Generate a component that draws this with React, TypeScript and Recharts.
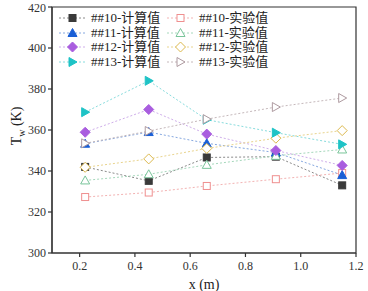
import React from "react";
import {
  LineChart,
  Line,
  XAxis,
  YAxis,
  ReferenceArea,
} from "recharts";

//========== Data ==========
const X_POS = [0.22, 0.45, 0.66, 0.91, 1.15];
const CALC_10 = [342, 335.2, 346.6, 347, 333];
const EXP_10 = [327.3, 329.5, 332.7, 336, 339];
const CALC_11 = [353.3, 359, 353.5, 349, 338];
const EXP_11 = [335.4, 338.4, 343, 347.4, 350.5];
const CALC_12 = [358.9, 370, 358, 350, 342.7];
const EXP_12 = [341.8, 345.9, 351, 356, 359.7];
const CALC_13 = [368.7, 384, 365, 358.7, 353];
const EXP_13 = [353.5, 359.5, 365.3, 371.2, 375.6];

const X_TICKS = [0.2, 0.4, 0.6, 0.8, 1.0, 1.2];
const X_MINOR = [0.1, 0.3, 0.5, 0.7, 0.9, 1.1];
const Y_TICKS = [300, 320, 340, 360, 380, 400, 420];
const Y_MINOR = [310, 330, 350, 370, 390, 410];

const FONT = "'Liberation Serif', 'Noto Sans CJK SC', serif";

type Shape = "square" | "triangle" | "diamond" | "right";

interface SeriesDef {
  key: string;
  name: string;
  values: number[];
  shape: Shape;
  filled: boolean;
  color: string;
  line: string;
}

const SERIES: SeriesDef[] = [
  { key: "c10", name: "##10-计算值", values: CALC_10, shape: "square", filled: true, color: "#3a3a3a", line: "#8a8a8a" },
  { key: "e10", name: "##10-实验值", values: EXP_10, shape: "square", filled: false, color: "#ef8f8f", line: "#f3b3b3" },
  { key: "c11", name: "##11-计算值", values: CALC_11, shape: "triangle", filled: true, color: "#1a5fd6", line: "#86a8e0" },
  { key: "e11", name: "##11-实验值", values: EXP_11, shape: "triangle", filled: false, color: "#79c59a", line: "#a6d8bc" },
  { key: "c12", name: "##12-计算值", values: CALC_12, shape: "diamond", filled: true, color: "#a95ddf", line: "#cfaeea" },
  { key: "e12", name: "##12-实验值", values: EXP_12, shape: "diamond", filled: false, color: "#dcb94e", line: "#e9d48e" },
  { key: "c13", name: "##13-计算值", values: CALC_13, shape: "right", filled: true, color: "#1ec3c6", line: "#88dcdd" },
  { key: "e13", name: "##13-实验值", values: EXP_13, shape: "right", filled: false, color: "#ae9aa0", line: "#c5b8bb" },
];

const data = X_POS.map((x, i) => {
  const row: Record<string, number> = { x };
  SERIES.forEach((s) => {
    row[s.key] = s.values[i];
  });
  return row;
});

//========== Marker ==========
const Marker = ({ cx, cy, s }: { cx: number; cy: number; s: SeriesDef }) => {
  const fill = s.filled ? s.color : "#ffffff";
  const common = { fill, stroke: s.color, strokeWidth: 1 };
  if (s.shape === "square") {
    return <rect x={cx - 3.5} y={cy - 3.5} width={7} height={7} {...common} />;
  }
  if (s.shape === "triangle") {
    return <polygon points={`${cx},${cy - 4.5} ${cx + 4.5},${cy + 3.5} ${cx - 4.5},${cy + 3.5}`} {...common} />;
  }
  if (s.shape === "diamond") {
    return <polygon points={`${cx},${cy - 5} ${cx + 5},${cy} ${cx},${cy + 5} ${cx - 5},${cy}`} {...common} />;
  }
  return <polygon points={`${cx - 3.5},${cy - 4.5} ${cx + 4.5},${cy} ${cx - 3.5},${cy + 4.5}`} {...common} />;
};

//========== Y Label ==========
const YLabel = () => (
  <text x={0} y={0} transform="translate(21,126) rotate(-90)" textAnchor="middle" fontFamily={FONT} fontSize={14} fill="#222">
    T<tspan fontSize={10} dy={4}>w</tspan>
    <tspan dy={-4}> (K)</tspan>
  </text>
);

//========== Legend ==========
const LegendItem = ({ s }: { s: SeriesDef }) => (
  <div style={{ display: "flex", alignItems: "center", height: 14.5 }}>
    <svg width={28} height={12}>
      <line x1={0} y1={6} x2={27} y2={6} stroke={s.line} strokeDasharray="2 2" />
      <Marker cx={13.5} cy={6} s={s} />
    </svg>
    <span style={{ marginLeft: 4, fontSize: 13, lineHeight: "14px", color: "#222", fontFamily: FONT }}>{s.name}</span>
  </div>
);

const ChartLegend = () => (
  <div style={{ position: "absolute", left: 59, top: 11, display: "flex" }}>
    <div style={{ width: 108 }}>
      {SERIES.filter((_, i) => i % 2 === 0).map((s) => (
        <LegendItem key={s.key} s={s} />
      ))}
    </div>
    <div>
      {SERIES.filter((_, i) => i % 2 === 1).map((s) => (
        <LegendItem key={s.key} s={s} />
      ))}
    </div>
  </div>
);

//========== Chart ==========
const App: React.FC = () => {
  const axisLine = { stroke: "#333", strokeWidth: 1.2 };
  const tickStyle = { fontSize: 12, fill: "#333", fontFamily: FONT };
  const blank = () => "";
  return (
    <div style={{ position: "absolute", left: 0, top: 0, width: 368, height: 291, background: "#fff" }}>
      <LineChart width={368} height={291} data={data} margin={{ top: 7, right: 12, bottom: 0, left: 0 }}>
        {/* minor ticks first so they sit against the plot area */}
        <XAxis xAxisId="aminor" dataKey="x" type="number" domain={[0.1, 1.2]} ticks={X_MINOR} interval={0} allowDataOverflow height={0} tickSize={2} axisLine={false} tickLine={axisLine} tickFormatter={blank} />
        <YAxis yAxisId="aminor" type="number" domain={[300, 420]} ticks={Y_MINOR} interval={0} width={0} tickSize={2} axisLine={false} tickLine={axisLine} tickFormatter={blank} />
        <XAxis
          xAxisId="main"
          dataKey="x"
          type="number"
          domain={[0.1, 1.2]}
          ticks={X_TICKS}
          tickFormatter={(v: number) => v.toFixed(1)}
          allowDataOverflow
          height={38}
          tickSize={4}
          tickMargin={4}
          axisLine={axisLine}
          tickLine={axisLine}
          tick={tickStyle}
          label={{ value: "x (m)", position: "insideBottom", offset: 2, style: { fontSize: 14, fill: "#222", fontFamily: FONT } }}
        />
        <YAxis
          yAxisId="main"
          type="number"
          domain={[300, 420]}
          ticks={Y_TICKS}
          width={52}
          tickSize={4}
          tickMargin={2}
          axisLine={axisLine}
          tickLine={axisLine}
          tick={tickStyle}
          label={<YLabel />}
        />
        <ReferenceArea
          xAxisId="main"
          yAxisId="main"
          x1={0.1}
          x2={1.2}
          y1={300}
          y2={420}
          fill="none"
          fillOpacity={0}
          stroke="#333"
          strokeWidth={1.2}
        />
        {SERIES.map((s) => (
          <Line
            key={s.key}
            xAxisId="main"
            yAxisId="main"
            dataKey={s.key}
            name={s.name}
            stroke={s.line}
            strokeWidth={1}
            strokeDasharray="2 2"
            dot={(p: any) => <Marker key={`${s.key}-${p.index}`} cx={p.cx} cy={p.cy} s={s} />}
            activeDot={false}
            isAnimationActive={false}
          />
        ))}
      </LineChart>
      <ChartLegend />
    </div>
  );
};

export default App;
